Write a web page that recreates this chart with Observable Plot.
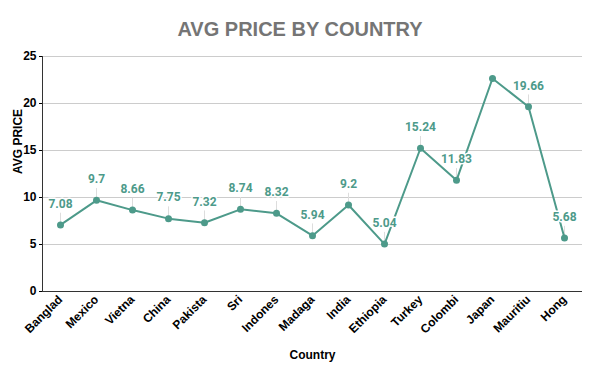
<!DOCTYPE html>
<html><head><meta charset="utf-8">
<script src="https://cdn.jsdelivr.net/npm/d3@7"></script>
<script src="https://cdn.jsdelivr.net/npm/@observablehq/plot@0.6"></script>
<style>
body{margin:0;background:#fff;}
#title{font:bold 20px "Liberation Sans",Arial,sans-serif;height:45px;line-height:58px;text-align:center;color:#757575;}
</style></head><body>
<div id="title">AVG PRICE BY COUNTRY</div>
<div id="chart"></div>
<script>
const countries = ["Banglad","Mexico","Vietna","China","Pakista","Sri","Indones","Madaga","India","Ethiopia","Turkey","Colombi","Japan","Mauritiu","Hong"];
const prices = [7.08,9.7,8.66,7.75,7.32,8.74,8.32,5.94,9.2,5.04,15.24,11.83,22.66,19.66,5.68];
const labels = ["7.08","9.7","8.66","7.75","7.32","8.74","8.32","5.94","9.2","5.04","15.24","11.83","","19.66","5.68"];
const yTicks = [0,5,10,15,20,25];

const data = countries.map((c,i)=>({country:c, price:prices[i], label:labels[i]}));
const labeled = data.filter(d=>d.label!=="");
const teal = "#4d9a8a";
const mL = 42;

const chart = Plot.plot({
  width:600, height:326,
  marginTop:11, marginBottom:80, marginLeft:mL, marginRight:18,
  style:{fontFamily:"'Liberation Sans',Arial,sans-serif", fontSize:"12px", color:"#000", background:"#fff"},
  x:{type:"point", domain:countries, padding:0.5, label:null},
  y:{domain:[0,25], ticks:yTicks, label:null},
  marks:[
    Plot.gridY(yTicks.filter(t=>t>0), {stroke:"#ccc", strokeOpacity:1}),
    Plot.axisY({ticks:yTicks, tickSize:3, tickPadding:3, fontWeight:"bold", label:null}),
    Plot.axisX({tickSize:0, tickRotate:-45, tickPadding:6, fontWeight:"bold", label:null}),
    Plot.ruleY([0], {stroke:"#333"}),
    Plot.ruleX(labeled, {x:"country", y1:"price", y2:d=>d.price+1.25, stroke:"#ddd", strokeWidth:1}),
    Plot.line(data, {x:"country", y:"price", stroke:teal, strokeWidth:2}),
    Plot.dot(data, {x:"country", y:"price", fill:teal, r:3.5}),
    Plot.text(labeled, {x:"country", y:"price", text:"label", dy:-21, fill:teal, stroke:"white", strokeWidth:3, fontWeight:"bold", fontSize:12, fontFamily:"Roboto, sans-serif"}),
    Plot.text(["AVG PRICE"], {frameAnchor:"left", dx:-24, rotate:-90, fontWeight:"bold", fontSize:12, fill:"#000"}),
    Plot.text(["Country"], {frameAnchor:"bottom", dy:67, fontWeight:"bold", fontSize:12, fill:"#000"})
  ]
});
document.getElementById("chart").append(chart);
// left axis line
d3.select(chart).append("line")
  .attr("x1", mL + 0.5).attr("x2", mL + 0.5)
  .attr("y1", 11).attr("y2", 326 - 80)
  .attr("stroke", "#333");
</script>
</body></html>
